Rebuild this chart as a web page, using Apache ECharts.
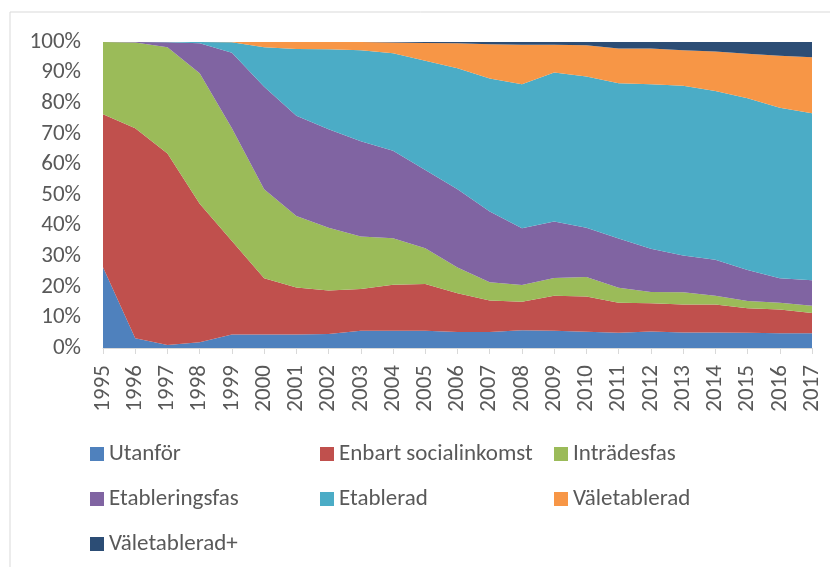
<!DOCTYPE html>
<html>
<head>
<meta charset="utf-8">
<script src="https://cdn.jsdelivr.net/npm/echarts@6/dist/echarts.min.js"></script>
<style>
  html, body { margin: 0; padding: 0; background: #fff; }
  #chart { width: 830px; height: 567px; }
</style>
</head>
<body>
<div id="chart"></div>
<script>
var years = ['1995','1996','1997','1998','1999','2000','2001','2002','2003','2004','2005',
             '2006','2007','2008','2009','2010','2011','2012','2013','2014','2015','2016','2017'];

// share of group per year, in percent
var utanfor      = [26.4, 3.2, 1.0, 1.9, 4.4, 4.4, 4.4, 4.6, 5.6, 5.6, 5.6, 5.2, 5.2, 5.8, 5.6, 5.3, 5.0, 5.4, 5.1, 5.1, 5.0, 4.8, 4.8];
var socialink    = [50.0, 68.6, 62.6, 45.2, 30.6, 18.4, 15.4, 14.2, 13.7, 15.1, 15.3, 12.7, 10.3, 9.3, 11.5, 11.5, 9.8, 9.2, 9.1, 9.1, 8.0, 7.8, 6.6];
var intrade      = [23.6, 28.0, 34.7, 42.7, 36.8, 29.1, 23.3, 20.5, 17.1, 15.2, 11.7, 8.4, 6.0, 5.5, 5.8, 6.4, 4.9, 3.7, 4.0, 2.9, 2.4, 2.2, 2.4];
var etablfas     = [0, 0.2, 1.6, 9.8, 24.7, 33.5, 32.8, 32.2, 31.2, 28.6, 25.6, 25.6, 23.1, 18.5, 18.4, 16.1, 16.1, 14.1, 12.0, 11.7, 10.1, 8.0, 8.3];
var etablerad    = [0, 0, 0.1, 0.4, 3.4, 12.9, 21.8, 26.1, 29.7, 31.8, 35.7, 39.5, 43.5, 47.1, 48.7, 49.4, 50.7, 53.8, 55.5, 55.2, 56.1, 55.7, 54.6];
var valetabl     = [0, 0, 0, 0, 0.1, 1.7, 2.3, 2.4, 2.7, 3.5, 5.8, 8.2, 11.2, 12.9, 9.1, 10.2, 11.4, 11.7, 11.6, 12.9, 14.6, 17.0, 18.3];
var valetablPlus = [0, 0, 0, 0, 0, 0, 0, 0, 0, 0.2, 0.3, 0.4, 0.7, 0.9, 0.9, 1.1, 2.1, 2.1, 2.7, 3.1, 3.8, 4.5, 5.0];

var names  = ['Utanför', 'Enbart socialinkomst', 'Inträdesfas', 'Etableringsfas', 'Etablerad', 'Väletablerad', 'Väletablerad+'];
var values = [utanfor, socialink, intrade, etablfas, etablerad, valetabl, valetablPlus];
var colors = ['#4F81BD', '#C0504D', '#9BBB59', '#8064A2', '#4BACC6', '#F79646', '#2C4D75'];

var fontFam = 'Carlito, "Liberation Sans Narrow", "Open Sans", sans-serif';
var textGray = '#595959';

var myChart = echarts.init(document.getElementById('chart'));

var series = names.map(function (n, i) {
    return {
        name: n,
        type: 'line',
        stack: 'total',
        symbol: 'none',
        lineStyle: { width: 0 },
        areaStyle: { color: colors[i], opacity: 1 },
        itemStyle: { color: colors[i] },
        data: values[i]
    };
});

function legendCol(left, items) {
    return {
        orient: 'vertical',
        left: left,
        top: 442,
        padding: 0,
        itemWidth: 14,
        itemHeight: 14,
        itemGap: 21,
        icon: 'rect',
        data: items,
        textStyle: { fontFamily: fontFam, fontSize: 23, color: textGray, lineHeight: 24 }
    };
}

var option = {
    animation: false,
    backgroundColor: '#fff',
    color: colors,
    grid: { left: 103, right: 18, top: 42, bottom: 219 },
    graphic: [{
        type: 'rect',
        shape: { x: 10, y: 12, width: 840, height: 600 },
        style: { fill: 'none', stroke: '#d9d9d9', lineWidth: 1 },
        silent: true
    }],
    legend: [
        legendCol(90, ['Utanför', 'Etableringsfas', 'Väletablerad+']),
        legendCol(320, ['Enbart socialinkomst', 'Etablerad']),
        legendCol(554, ['Inträdesfas', 'Väletablerad'])
    ],
    xAxis: {
        type: 'category',
        boundaryGap: false,
        data: years,
        axisLine: { lineStyle: { color: '#d9d9d9', width: 1 } },
        axisTick: { show: true, length: 6, interval: 0, lineStyle: { color: '#d9d9d9' } },
        axisLabel: { rotate: 90, interval: 0, margin: 17, fontFamily: fontFam, fontSize: 23, color: textGray }
    },
    yAxis: {
        type: 'value',
        min: 0,
        max: 100,
        interval: 10,
        axisLine: { show: false },
        axisTick: { show: false },
        splitLine: { show: false },
        axisLabel: { formatter: '{value}%', margin: 22, fontFamily: fontFam, fontSize: 23, color: textGray }
    },
    series: series
};

myChart.setOption(option);
</script>
</body>
</html>
